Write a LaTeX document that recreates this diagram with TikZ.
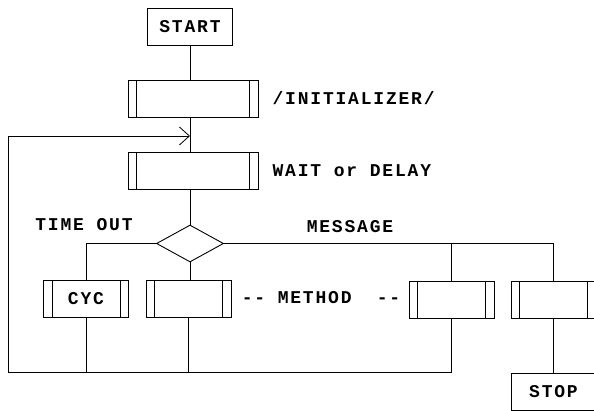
\documentclass[tikz,border=0pt]{standalone}
\usepackage{fontspec}
\newfontfamily\dotfont[LetterSpace=10]{Liberation Mono}
\usetikzlibrary{arrows.meta,positioning,shapes.geometric}

\begin{document}
\begin{tikzpicture}[
    x=1pt, y=-1pt,
    every node/.style={font=\dotfont\bfseries\fontsize{18}{20}\selectfont},
    term/.style={draw, line width=0.9pt, minimum width=85pt, minimum height=37pt, inner sep=0pt},
    proc/.style={draw, line width=0.9pt, minimum width=#1, minimum height=37pt, inner sep=0pt,
        path picture={
            \draw[line width=0.9pt] ([xshift=8.5pt]path picture bounding box.north west) -- ([xshift=8.5pt]path picture bounding box.south west);
            \draw[line width=0.9pt] ([xshift=-8.5pt]path picture bounding box.north east) -- ([xshift=-8.5pt]path picture bounding box.south east);}},
    proc/.default=85pt,
    decision/.style={draw, diamond, line width=0.9pt, minimum width=67pt, minimum height=37pt, inner sep=0pt},
    tag/.style={inner sep=0pt},
    line/.style={line width=0.8pt},
    flow/.style={line width=0.8pt, -{Straight Barb[length=10pt,width=18pt]}}
]
\useasboundingbox (0,0) rectangle (594,411);
\node[term] (start) at (190,26.5) {START};
\node[proc=130pt] (init) at (193,98.5) {};
\node[proc=130pt] (wait) at (193,171) {};
\node[decision] (dia) at (190,243.5) {};
\node[proc] (cyc) at (86,298.5) {CYC\hspace{12pt}};
\node[proc] (meth) at (188.5,298.5) {};
\node[proc] (last) at (451.5,299.5) {};
\node[proc] (quit) at (553.5,299.5) {};
\node[term] (stop) at (553.5,391.5) {STOP};
\node[tag, right=14pt of init] (initlbl) {/INITIALIZER/};
\node[tag, right=14pt of wait] (waitlbl) {WAIT or DELAY};
\node[tag] (timeout) at (84,225) {TIME OUT};
\node[tag] (msg) at (350,227) {MESSAGE};
\node[tag] (methlbl) at (321,298) {-{}- METHOD \ -{}-};
\coordinate (join) at (190,136);
\coordinate (corner) at (8,372);
\draw[line] (start) -- (start |- init.north);
\draw[line] (start |- init.south) -- (start |- wait.north);
\draw[line] (start |- wait.south) -- (dia);
\draw[line] (dia.west) -| (cyc.north);
\draw[line] (dia.south) -- (dia.south |- meth.north);
\draw[line] (dia.east) -| (quit.north);
\draw[line] (last.north) -- (last.north |- dia.east);
\draw[line] (quit.south) -- (stop.north);
\draw[line] (cyc.south) -- (cyc.south |- corner);
\draw[line] (meth.south) -- (meth.south |- corner);
\draw[flow] (last.south) |- (corner) |- (join);
\end{tikzpicture}
\end{document}
